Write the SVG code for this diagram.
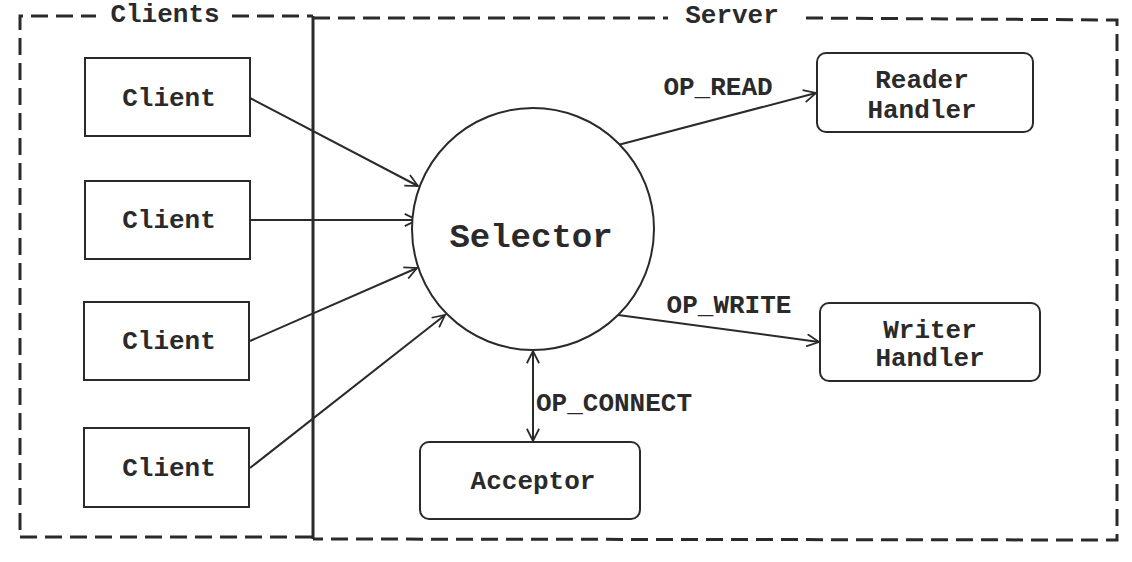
<svg xmlns="http://www.w3.org/2000/svg" width="1132" height="562" viewBox="0 0 1132 562">
<style>
  .bg{fill:#ffffff}
  .dash{fill:none;stroke:#2a2a2a;stroke-width:3;stroke-dasharray:17 8}
  .solid{fill:none;stroke:#2a2a2a;stroke-width:3}
  .box{fill:#ffffff;stroke:#2a2a2a;stroke-width:2}
  .edge{fill:none;stroke:#2a2a2a;stroke-width:2}
  .t{font-family:"Liberation Mono","Courier New",monospace;font-weight:bold;font-size:26px;fill:#2a2a2a;text-anchor:middle}
  .big{font-size:34px}
</style>
<defs>
  <marker id="arr" viewBox="0 0 16 16" refX="15" refY="8" markerWidth="14" markerHeight="14" markerUnits="userSpaceOnUse" orient="auto-start-reverse">
    <path d="M1,1 L15,8 L1,15" fill="none" stroke="#2a2a2a" stroke-width="2"/>
  </marker>
</defs>
<rect class="bg" x="0" y="0" width="1132" height="562"/>

<g id="clients-frame">
  <path class="dash" d="M20,530 L20,16 L96,16"/>
  <path class="dash" d="M232,16 L313,16"/>
  <path class="dash" d="M20,537 L313,537"/>
  <text class="t" x="165" y="22">Clients</text>
</g>
<g id="server-frame">
  <line class="solid" x1="313" y1="16" x2="313" y2="539"/>
  <path class="dash" d="M313,18 L668,18"/>
  <path class="dash" d="M806,18 L1117,20 L1117,540 L313,539"/>
  <text class="t" x="732" y="23">Server</text>
</g>

<g id="connectors">
  <line class="edge" x1="250" y1="98" x2="418" y2="186" marker-end="url(#arr)"/>
  <line class="edge" x1="250" y1="220" x2="417" y2="220" marker-end="url(#arr)"/>
  <line class="edge" x1="250" y1="341" x2="417" y2="268" marker-end="url(#arr)"/>
  <line class="edge" x1="250" y1="468" x2="445" y2="315" marker-end="url(#arr)"/>
  <line class="edge" x1="618" y1="145" x2="816" y2="93" marker-end="url(#arr)"/>
  <line class="edge" x1="618" y1="315" x2="819" y2="342" marker-end="url(#arr)"/>
  <line class="edge" x1="533" y1="351" x2="533" y2="441" marker-start="url(#arr)" marker-end="url(#arr)"/>
  <text class="t" x="718" y="95">OP_READ</text>
  <text class="t" x="729" y="313">OP_WRITE</text>
  <text class="t" x="614" y="411">OP_CONNECT</text>
</g>

<g id="client1"><rect class="box" x="85" y="58" width="165" height="78"/><text class="t" x="169" y="106">Client</text></g>
<g id="client2"><rect class="box" x="85" y="181" width="165" height="78"/><text class="t" x="169" y="228">Client</text></g>
<g id="client3"><rect class="box" x="84" y="302" width="165" height="78"/><text class="t" x="169" y="349">Client</text></g>
<g id="client4"><rect class="box" x="84" y="428" width="165" height="79"/><text class="t" x="169" y="476">Client</text></g>

<g id="selector"><circle class="box" cx="533" cy="229" r="121"/><text class="t big" x="531" y="247">Selector</text></g>

<g id="reader-handler"><rect class="box" x="817" y="53" width="216" height="79" rx="9"/><text class="t" x="922" y="88">Reader</text><text class="t" x="922" y="118">Handler</text></g>
<g id="writer-handler"><rect class="box" x="820" y="303" width="220" height="78" rx="9"/><text class="t" x="930" y="338">Writer</text><text class="t" x="930" y="366">Handler</text></g>
<g id="acceptor"><rect class="box" x="420" y="442" width="220" height="77" rx="9"/><text class="t" x="533" y="489">Acceptor</text></g>
</svg>
